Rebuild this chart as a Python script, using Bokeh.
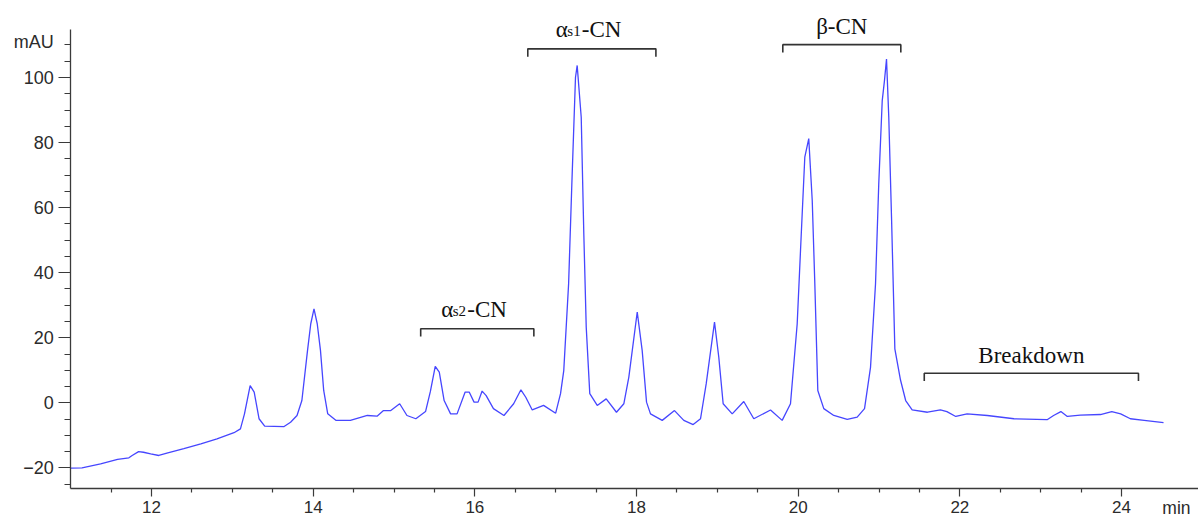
from bokeh.plotting import figure
from bokeh.models import Range1d, FixedTicker, Label
from bokeh.embed import file_html
from bokeh.resources import INLINE

# ---- data ----
time_min = [11.00, 11.14, 11.37, 11.58, 11.72, 11.76, 11.84, 11.90, 11.99, 12.09,
            12.19, 12.40, 12.61, 12.81, 13.02, 13.10, 13.15, 13.22, 13.27, 13.33,
            13.40, 13.64, 13.72, 13.80, 13.86, 13.93, 13.97, 14.01, 14.05, 14.09,
            14.13, 14.18, 14.28, 14.46, 14.67, 14.79, 14.87, 14.96, 15.07, 15.16,
            15.27, 15.39, 15.45, 15.51, 15.56, 15.62, 15.70, 15.78, 15.88, 15.93,
            15.99, 16.04, 16.09, 16.14, 16.23, 16.36, 16.48, 16.57, 16.63, 16.71,
            16.85, 17.00, 17.06, 17.10, 17.16, 17.20, 17.245, 17.266, 17.316, 17.348,
            17.378, 17.422, 17.514, 17.625, 17.752, 17.843, 17.905, 18.009, 18.070, 18.124,
            18.173, 18.318, 18.470, 18.585, 18.701, 18.792, 18.862, 18.965, 19.018, 19.072,
            19.184, 19.327, 19.451, 19.658, 19.802, 19.905, 19.988, 20.029, 20.082, 20.131,
            20.174, 20.206, 20.243, 20.317, 20.441, 20.607, 20.730, 20.821, 20.895, 20.957,
            20.997, 21.040, 21.068, 21.093, 21.121, 21.155, 21.196, 21.266, 21.33, 21.41,
            21.60, 21.76, 21.84, 21.95, 22.09, 22.34, 22.67, 23.08, 23.16, 23.25,
            23.33, 23.49, 23.74, 23.88, 23.99, 24.11, 24.28, 24.52]
absorbance_mau = [-20.1, -20.0, -18.8, -17.4, -16.9, -16.2, -15.0, -15.2, -15.7, -16.2,
                  -15.5, -14.1, -12.6, -11.1, -9.2, -8.0, -3.4, 5.3, 3.3, -4.9,
                  -7.2, -7.3, -6.0, -3.9, 0.7, 16.1, 24.3, 28.9, 24.3, 16.1,
                  3.8, -3.4, -5.4, -5.4, -3.9, -4.1, -2.4, -2.4, -0.3, -3.9,
                  -4.9, -2.7, 3.5, 11.2, 9.4, 0.7, -3.4, -3.4, 3.3, 3.3,
                  0.2, 0.2, 3.6, 2.2, -1.8, -3.9, -0.3, 4.0, 1.7, -2.2,
                  -0.8, -3.2, 2.8, 9.9, 36.6, 67.3, 100.0, 103.7, 87.8, 52.0,
                  23.2, 2.8, -0.8, 1.2, -2.9, -0.3, 7.9, 27.9, 16.1, 0.2,
                  -3.4, -5.4, -2.4, -5.4, -6.7, -4.9, 5.8, 24.8, 14.0, -0.3,
                  -3.4, 0.4, -4.9, -2.2, -5.4, -0.3, 24.3, 46.8, 75.5, 81.2,
                  62.2, 36.6, 3.8, -1.8, -3.9, -5.1, -4.4, -1.8, 10.9, 36.6,
                  67.3, 92.9, 99.1, 105.7, 87.8, 57.0, 16.6, 7.0, 0.7, -2.2,
                  -2.9, -2.2, -2.7, -4.2, -3.4, -3.9, -4.9, -5.2, -3.9, -2.7,
                  -4.2, -3.8, -3.6, -2.7, -3.4, -4.9, -5.4, -6.1]

x_major_ticks = [12, 14, 16, 18, 20, 22, 24]
x_minor_ticks = [11.5, 12.5, 13, 13.5, 14.5, 15, 15.5, 16.5, 17, 17.5, 18.5, 19,
                 19.5, 20.5, 21, 21.5, 22.5, 23, 23.5]
y_major_ticks = [-20, 0, 20, 40, 60, 80, 100]
y_minor_ticks = [-25, -15, -10, -5, 5, 10, 15, 25, 30, 35, 45, 50, 55, 65, 70, 75,
                 85, 90, 95, 105, 110]
y_unit_label = "mAU"
x_unit_label = "min"

# peak groups: name pieces (main, subscript, rest), start, end, bracket level
group_main = ["α", "α", "β-CN", "Breakdown"]
group_sub = ["s2", "s1", "", ""]
group_rest = ["-CN", "-CN", "", ""]
group_start = [15.33, 16.655, 19.81, 21.56]
group_end = [16.73, 18.24, 21.27, 24.21]
group_level = [22.75, 108.8, 110.1, 9.1]

# ---- geometry of the plot area (axes drawn at fixed locations) ----
W, H = 1198, 517
PX_PER_MIN = 80.83
PX_PER_UNIT = 3.253
AXIS_LEFT_PX = 70.2      # where t = 11 sits
ZERO_PX = 402.3          # where 0 mAU sits
x_axis_start, x_axis_end = 11.0, 24.95
y_axis_start, y_axis_end = -26.4, 114.8

x_lo = x_axis_start - AXIS_LEFT_PX / PX_PER_MIN
x_hi = x_lo + W / PX_PER_MIN
y_hi = ZERO_PX / PX_PER_UNIT
y_lo = y_hi - H / PX_PER_UNIT

p = figure(width=W, height=H, output_backend="svg", toolbar_location=None,
           x_range=Range1d(x_lo, x_hi), y_range=Range1d(y_lo, y_hi),
           min_border=0, min_border_left=0, min_border_right=0,
           min_border_top=0, min_border_bottom=0)
p.outline_line_color = None
p.xgrid.visible = False
p.ygrid.visible = False
p.background_fill_color = "white"
p.border_fill_color = "white"

axis_col = "#3a3a3a"
label_col = "#2b2b2b"
for ax in (p.xaxis[0], p.yaxis[0]):
    ax.axis_line_color = axis_col
    ax.axis_line_width = 1.3
    ax.major_tick_line_color = axis_col
    ax.minor_tick_line_color = axis_col
    ax.major_tick_line_width = 1.2
    ax.minor_tick_line_width = 1.2
    ax.major_tick_in = 0
    ax.minor_tick_in = 0
    ax.major_label_text_font = "Liberation Sans"
    ax.major_label_text_color = label_col

p.xaxis.fixed_location = y_axis_start
p.xaxis.bounds = (x_axis_start, x_axis_end)
p.xaxis.ticker = FixedTicker(ticks=x_major_ticks, minor_ticks=x_minor_ticks)
p.xaxis.major_tick_out = 8
p.xaxis.minor_tick_out = 4
p.xaxis.major_label_text_font_size = "17px"
p.xaxis.major_label_standoff = 4

p.yaxis.fixed_location = x_axis_start
p.yaxis.bounds = (y_axis_start, y_axis_end)
p.yaxis.ticker = FixedTicker(ticks=y_major_ticks, minor_ticks=y_minor_ticks)
p.yaxis.major_tick_out = 12
p.yaxis.minor_tick_out = 6
p.yaxis.major_label_text_font_size = "18px"
p.yaxis.major_label_standoff = 5

# chromatogram trace
p.line(time_min, absorbance_mau, line_color="#4646ff", line_width=1.3)

# brackets
LEG = 2.4
xs, ys = [], []
for s, e, lv in zip(group_start, group_end, group_level):
    xs.append([s, s, e, e])
    ys.append([lv - LEG, lv, lv, lv - LEG])
p.multi_line(xs, ys, line_color="#333333", line_width=1.6)

serif = "Liberation Serif"
TXT_UP = 19
for m, sub, rest, s, e, lv in zip(group_main, group_sub, group_rest,
                                   group_start, group_end, group_level):
    cx = (s + e) / 2
    if sub:
        p.add_layout(Label(x=cx, y=lv, x_offset=-36, y_offset=TXT_UP, text=m,
                           text_font=serif, text_font_size="23px",
                           text_color="#111111", text_align="left",
                           text_baseline="alphabetic"))
        p.add_layout(Label(x=cx, y=lv, x_offset=-24.5, y_offset=TXT_UP - 1, text=sub,
                           text_font=serif, text_font_size="15px",
                           text_color="#111111", text_align="left",
                           text_baseline="alphabetic"))
        p.add_layout(Label(x=cx, y=lv, x_offset=-10, y_offset=TXT_UP, text=rest,
                           text_font=serif, text_font_size="23px",
                           text_color="#111111", text_align="left",
                           text_baseline="alphabetic"))
    else:
        p.add_layout(Label(x=cx, y=lv, y_offset=TXT_UP - 1, text=m,
                           text_font=serif, text_font_size="23px",
                           text_color="#111111", text_align="center",
                           text_baseline="alphabetic"))

# unit labels
p.add_layout(Label(x=x_axis_start, y=110, x_offset=-17, y_offset=3, text=y_unit_label,
                   text_font="Liberation Sans", text_font_size="18px",
                   text_color=label_col, text_align="right", text_baseline="middle"))
p.add_layout(Label(x=24.68, y=-32.2, text=x_unit_label,
                   text_font="Liberation Sans", text_font_size="17.5px",
                   text_color=label_col, text_align="center",
                   text_baseline="alphabetic"))

open("out.html", "w").write(file_html(p, INLINE, title="Chromatogram"))
